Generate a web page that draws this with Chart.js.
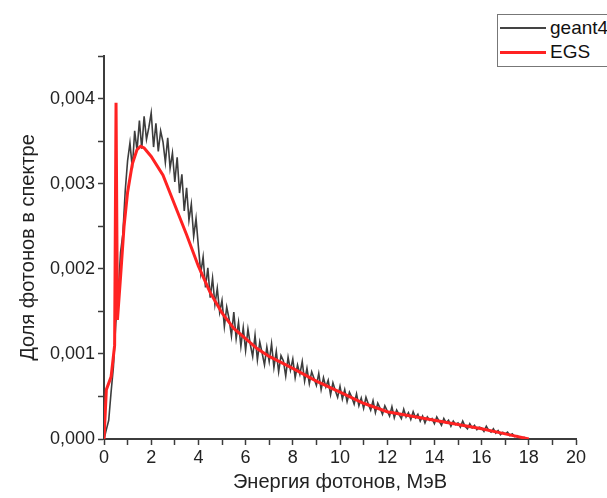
<!DOCTYPE html>
<html>
<head>
<meta charset="utf-8">
<script src="https://cdn.jsdelivr.net/npm/chart.js@4.4.1/dist/chart.umd.min.js"></script>
<style>
  body { margin: 0; background: #fff; }
  #wrap { position: relative; width: 607px; height: 498px; overflow: hidden; }
  #legend {
    position: absolute; left: 497px; top: 14px; width: 130px; height: 51px;
    border: 1px solid #777; background: #fff;
    font-family: "Liberation Sans", Arial, sans-serif; font-size: 19px; color: #111;
  }
  .row { position: absolute; left: 0; height: 24px; line-height: 24px; }
  .row span.ln { position: absolute; left: 2px; width: 46px; }
  .row span.tx { position: absolute; left: 52px; white-space: nowrap; }
</style>
</head>
<body>
<div id="wrap">
  <canvas id="myChart" width="607" height="498"></canvas>
  <div id="legend">
    <div class="row" style="top:1px"><span class="ln" style="top:11px;height:2px;background:#444"></span><span class="tx">geant4</span></div>
    <div class="row" style="top:25px"><span class="ln" style="top:11px;height:3px;background:#f22"></span><span class="tx">EGS</span></div>
  </div>
</div>
<script>
// geant4: гистограмма с шагом 0,1 МэВ (0 ... 18 МэВ)
const geantStep = 0.1;
const geantY = [
  0, 0.00011, 0.00022, 0.00055, 0.00085, 0.00136, 0.00168, 0.00219, 0.00241, 0.00292,
  0.00327, 0.00348, 0.00318, 0.00362, 0.00339, 0.00374, 0.00341, 0.00379, 0.00352, 0.00366,
  0.00383, 0.00343, 0.00371, 0.00338, 0.00362, 0.00349, 0.00325, 0.00354, 0.00318, 0.00336,
  0.00302, 0.00331, 0.00289, 0.00311, 0.00268, 0.00295, 0.00257, 0.00276, 0.00238, 0.00259,
  0.00226, 0.00195, 0.00214, 0.00178, 0.00201, 0.00166, 0.00189, 0.00158, 0.00177, 0.00149,
  0.00163, 0.00132, 0.00155, 0.00141, 0.00121, 0.00149, 0.00118, 0.00137, 0.00109, 0.00131,
  0.00104, 0.00129, 0.00111, 0.00097, 0.00122, 0.00093, 0.00114, 0.00101, 0.00087, 0.00108,
  0.00091, 0.00112, 0.00084, 0.00103, 0.00079, 0.00098, 0.00092, 0.00074, 0.00096, 0.00081,
  0.00094, 0.00072, 0.00087, 0.00076, 0.00091, 0.00068, 0.00083, 0.00065, 0.00079, 0.00071,
  0.00063, 0.00077, 0.00058, 0.00072, 0.00061, 0.00069, 0.00052, 0.00066, 0.00057, 0.00049,
  0.00062, 0.00047, 0.00058, 0.00044, 0.00055, 0.00049, 0.00041, 0.00053, 0.00039, 0.00048,
  0.00036, 0.00049, 0.00041, 0.00034, 0.00045, 0.00031, 0.00042, 0.00036, 0.00029, 0.00039,
  0.00033, 0.00027, 0.00038, 0.00025, 0.00034, 0.00029, 0.00024, 0.00035, 0.00026, 0.00031,
  0.00023, 0.00032, 0.00025, 0.00029, 0.00021, 0.00027, 0.00019, 0.00026, 0.00022, 0.00024,
  0.00018, 0.00026, 0.00021, 0.00016, 0.00024, 0.00019, 0.00022, 0.00015, 0.00021, 0.00017,
  0.00019, 0.00014, 0.00021, 0.00015, 0.00012, 0.00018, 0.00013, 0.00016, 0.00011, 0.00014,
  0.00013, 0.00009, 0.00015, 0.00010, 0.00008, 0.00012, 0.00007, 0.00010, 0.00005, 0.00008,
  0.00006, 0.00008, 0.00004, 0.00006, 0.00003, 0.00004, 0.00002, 0.00001, 0.00002, 0,
  0
];

// EGS
const egsE = [0, 0.1, 0.3, 0.45, 0.51, 0.57, 0.7, 0.85, 1.0, 1.2, 1.4, 1.55, 1.7, 2.0, 2.5, 3.0, 3.5,
  4.0, 4.5, 5.0, 5.5, 6.0, 6.5, 7.0, 7.5, 8.0, 9.0, 10.0, 11.0, 12.0, 13.0, 14.0, 15.0, 16.0, 17.0, 18.0];
const egsY = [0, 0.00058, 0.00073, 0.0011, 0.00395, 0.0014, 0.0019, 0.0025, 0.0029, 0.00323, 0.0034, 0.00344, 0.00342, 0.00332, 0.0031, 0.00275, 0.0024,
  0.00203, 0.00172, 0.00148, 0.0013, 0.00118, 0.00106, 0.00097, 0.0009, 0.00083, 0.00068, 0.00055, 0.00042, 0.00032, 0.00027, 0.00022, 0.00017, 0.00012, 0.00006, 0];

const xMin = 0, xMax = 20;
const yMin = 0, yMax = 0.0045;

const geantPts = geantY.map((y, i) => ({ x: +(i * geantStep).toFixed(2), y: y }));
const egsPts = egsE.map((x, i) => ({ x: x, y: egsY[i] }));

const fontFam = '"Liberation Sans", Arial, sans-serif';
const axisColor = '#3c3c3c';

const ctx = document.getElementById('myChart').getContext('2d');

let chart = new Chart(ctx, {
  type: 'line',
  data: {
    datasets: [{
      label: 'geant4',
      data: geantPts,
      borderColor: '#3d3d3d',
      borderWidth: 1.6,
      pointRadius: 0,
      order: 1
    }, {
      label: 'EGS',
      data: egsPts,
      borderColor: '#ff2222',
      borderWidth: 3,
      pointRadius: 0,
      order: 0
    }]
  },
  options: {
    responsive: false,
    animation: false,
    devicePixelRatio: 1,
    layout: { padding: { top: 56, right: 31, left: 0, bottom: 0 } },
    plugins: {
      legend: { display: false },
      tooltip: { enabled: false }
    },
    scales: {
      x: {
        type: 'linear',
        min: xMin,
        max: xMax,
        border: { display: true, color: axisColor, width: 2 },
        grid: { drawOnChartArea: false, drawTicks: true, tickLength: 6, tickColor: axisColor, tickWidth: 1.5 },
        ticks: {
          stepSize: 1,
          autoSkip: false,
          maxRotation: 0,
          padding: 2,
          color: '#222',
          font: { family: fontFam, size: 18 },
          callback: (v) => (v % 2 === 0 ? String(v) : '')
        },
        title: {
          display: true,
          text: 'Энергия фотонов, МэВ',
          color: '#222',
          font: { family: fontFam, size: 20 },
          padding: { top: 0, bottom: 4 }
        },
        afterFit: (s) => { s.height = 59; }
      },
      y: {
        min: yMin,
        max: yMax,
        border: { display: true, color: axisColor, width: 2 },
        grid: { drawOnChartArea: false, drawTicks: true, tickLength: 6, tickColor: axisColor, tickWidth: 1.5 },
        ticks: {
          stepSize: 0.0005,
          autoSkip: false,
          padding: 3,
          color: '#222',
          font: { family: fontFam, size: 18 },
          callback: (v) => (Math.round(v * 10000) % 10 === 0 ? v.toFixed(3).replace('.', ',') : '')
        },
        title: {
          display: true,
          text: 'Доля фотонов в спектре',
          color: '#222',
          font: { family: fontFam, size: 20 },
          padding: { top: 16, bottom: 0 }
        },
        afterFit: (s) => { s.width = 104; }
      }
    }
  }
});
</script>
</body>
</html>
